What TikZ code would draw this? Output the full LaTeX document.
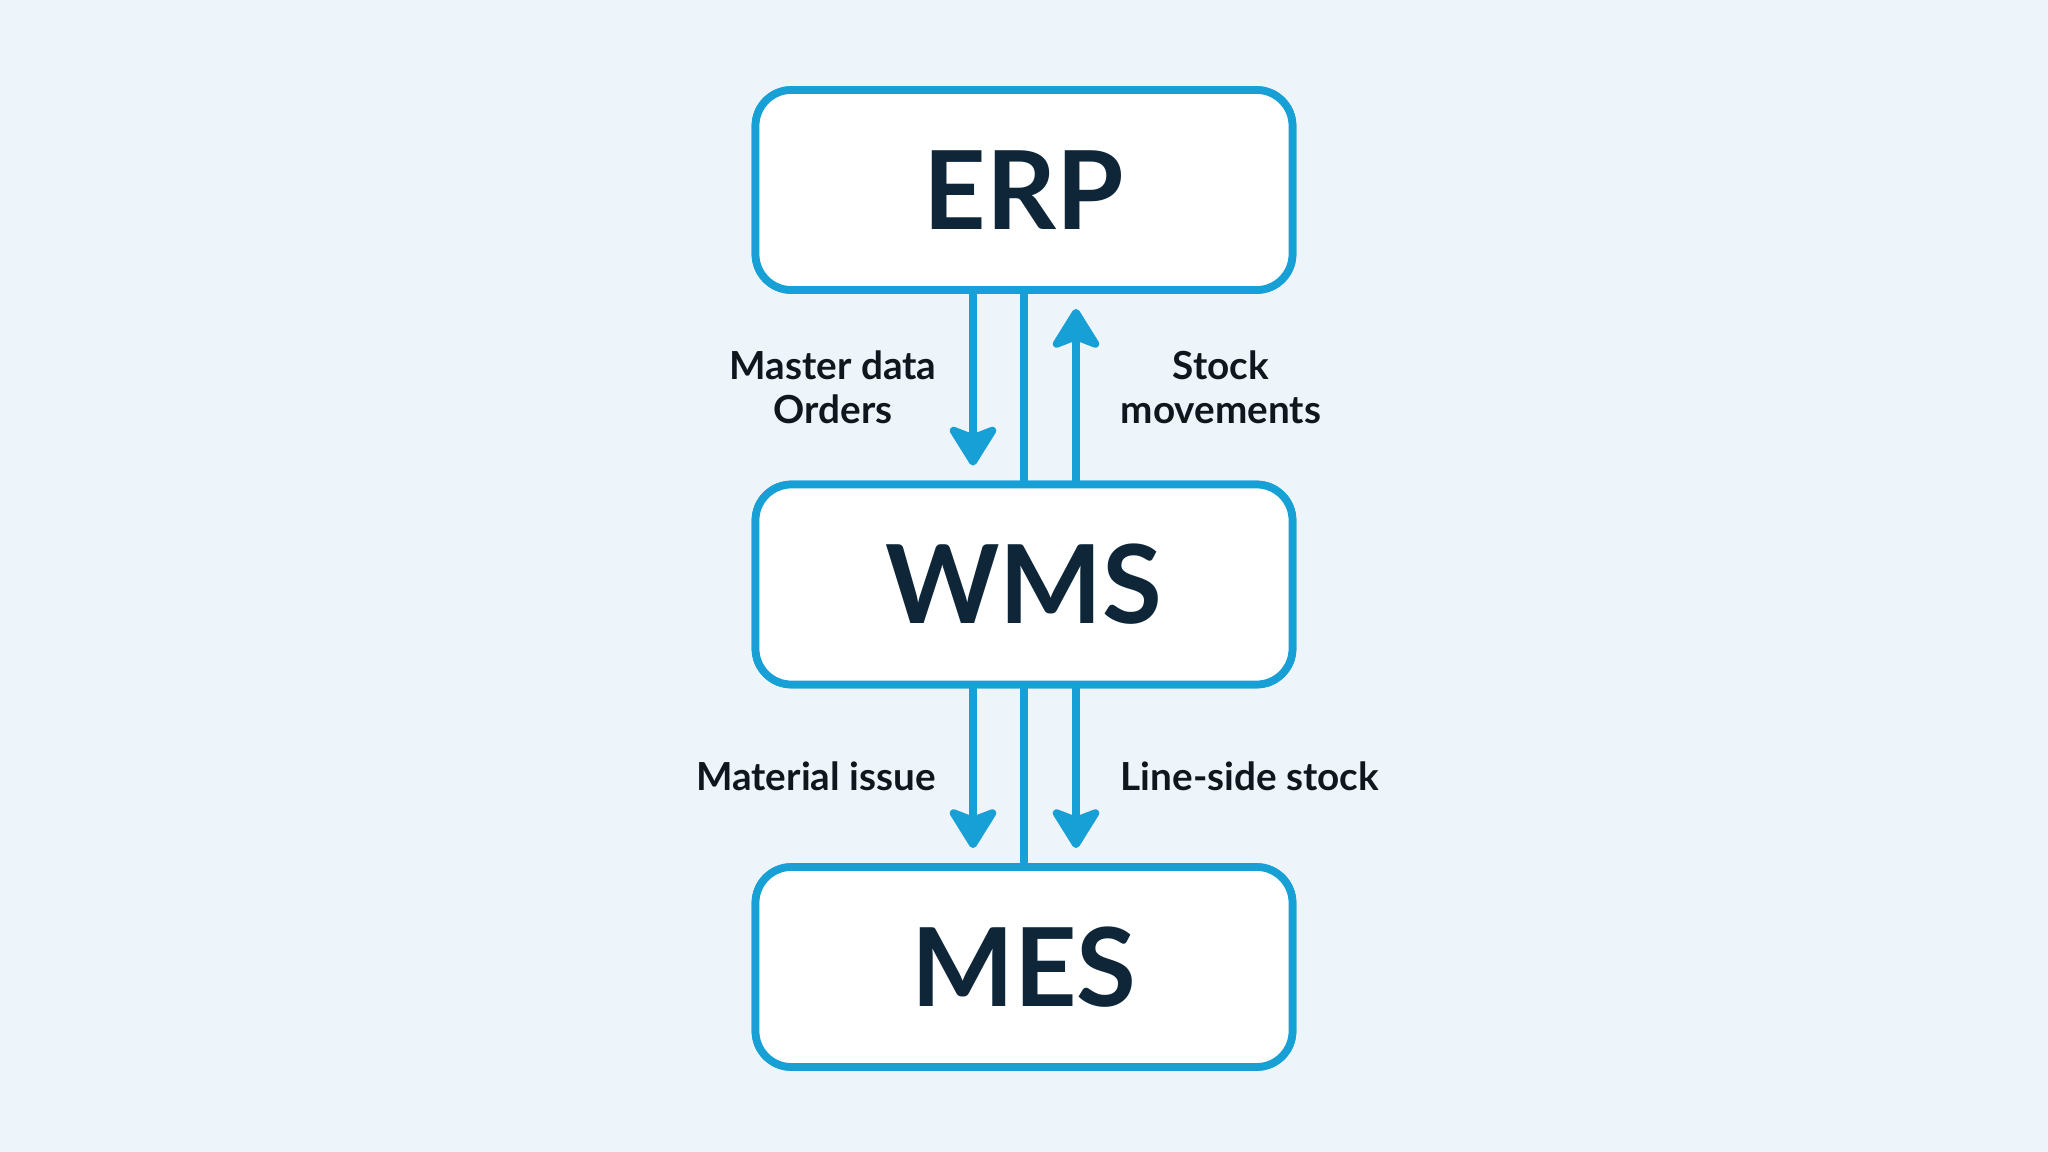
\documentclass[tikz,border=0pt]{standalone}
\usepackage{fontspec}
\setmainfont{Lato}
\usetikzlibrary{arrows.meta}

\definecolor{bgpale}{HTML}{EEF5FA}
\definecolor{flowblue}{HTML}{17A0D6}
\definecolor{titlenavy}{HTML}{0E2638}
\definecolor{labelink}{HTML}{10161D}

\tikzset{
	sysbox/.style={draw=flowblue, line width=2.2pt, fill=white, rounded corners=0.36cm,
		minimum width=5.37cm, minimum height=2cm, text=titlenavy,
		font=\fontsize{31}{36}\selectfont\bfseries},
	flow/.style={draw=flowblue, line width=2.2pt, -{Stealth[length=13pt,width=16pt,inset=3pt,round]}},
	flowlabel/.style={text=labelink, align=center, font=\fontsize{11}{12.5}\selectfont\bfseries}
}

\begin{document}
\begin{tikzpicture}
		\fill[bgpale] (0,0) rectangle (20.48,-11.52);
		\useasboundingbox (0,0) rectangle (20.48,-11.52);
		
		\node[sysbox] (erp) at (10.24,-1.90) {ERP};
		\node[sysbox] (wms) at (10.24,-5.845) {WMS};
		\node[sysbox] (mes) at (10.24,-9.67) {MES};
		
		% ERP <-> WMS
		\draw [flow, shorten >=0.15cm] ([xshift=-0.51cm]erp.south) -- ([xshift=-0.51cm]wms.north);
		\draw [draw=flowblue, line width=2.2pt] (erp.south) -- (wms.north);
		\draw [flow, shorten >=0.15cm] ([xshift=0.52cm]wms.north) -- ([xshift=0.52cm]erp.south);
		
		% WMS -> MES
		\draw [flow, shorten >=0.15cm] ([xshift=-0.51cm]wms.south) -- ([xshift=-0.51cm]mes.north);
		\draw [draw=flowblue, line width=2.2pt] (wms.south) -- (mes.north);
		\draw [flow, shorten >=0.15cm] ([xshift=0.52cm]wms.south) -- ([xshift=0.52cm]mes.north);
		
		\node[flowlabel] (masterlbl) at (8.33,-3.87) {Master data\\Orders};
		\node[flowlabel] (stocklbl) at (12.21,-3.87) {Stock\\movements};
		\node[flowlabel] (issuelbl) at (8.16,-7.76) {Material issue};
		\node[flowlabel] (linelbl) at (12.50,-7.76) {Line-side stock};
		
		% redraw boxes over the connector ends
		\node[sysbox] at (erp) {ERP};
		\node[sysbox] at (wms) {WMS};
		\node[sysbox] at (mes) {MES};
\end{tikzpicture}
\end{document}
